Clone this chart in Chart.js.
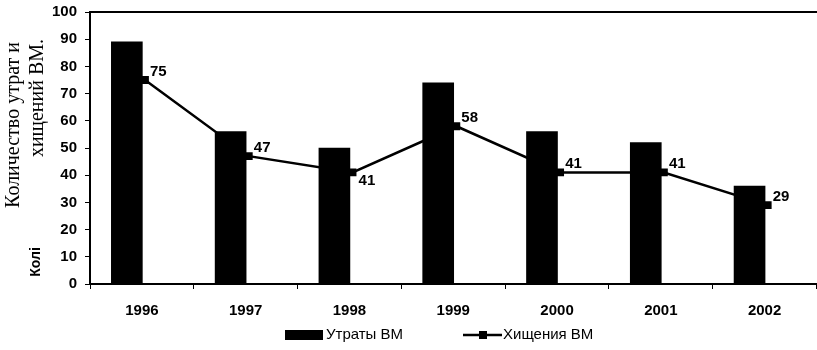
<!DOCTYPE html>
<html>
<head>
<meta charset="utf-8">
<script src="https://cdn.jsdelivr.net/npm/chart.js@4.4.1/dist/chart.umd.min.js"></script>
<style>
  html, body { margin: 0; padding: 0; background: #fff; overflow: hidden; }
  #wrap { width: 822px; height: 350px; position: relative; }
</style>
</head>
<body>
<div id="wrap"><canvas id="c" width="822" height="350"></canvas></div>
<script>
// ---- Data ----
const years = ['1996', '1997', '1998', '1999', '2000', '2001', '2002'];
const lossesValues = [89, 56, 50, 74, 56, 52, 36];   // Утраты ВМ (bars)
const theftValues  = [75, 47, 41, 58, 41, 41, 29];   // Хищения ВМ (line)
const yTicks = [0, 10, 20, 30, 40, 50, 60, 70, 80, 90, 100];
const seriesNames = ['Утраты ВМ', 'Хищения ВМ'];
const axisTitleLines = ['Количество утрат и', 'хищений ВМ.'];
const axisTitleStub = 'Колі';

// ---- Style constants ----
const BAR_SHIFT = -0.145;         // bars sit left of the category centre
const LINE_SHIFT = 0.03;
const labelBelow = [false, false, true, false, false, false, false];
const SANS = '"Liberation Sans", Arial, sans-serif';
const SERIF = '"Liberation Serif", "Times New Roman", serif';

const barData = lossesValues.map((v, i) => ({ x: i + BAR_SHIFT, y: v }));
const lineData = theftValues.map((v, i) => ({ x: i + LINE_SHIFT, y: v }));

const decorPlugin = {
  id: 'decor',
  afterDatasetsDraw(chart) {
    const ctx = chart.ctx;
    const meta = chart.getDatasetMeta(1);
    ctx.save();
    ctx.fillStyle = '#000';
    ctx.font = 'bold 15px ' + SANS;
    ctx.textAlign = 'left';
    meta.data.forEach((pt, i) => {
      if (labelBelow[i]) {
        ctx.textBaseline = 'top';
        ctx.fillText(String(theftValues[i]), pt.x + 6, pt.y + 1);
      } else {
        ctx.textBaseline = 'bottom';
        ctx.fillText(String(theftValues[i]), pt.x + 5, pt.y - 1);
      }
    });
    ctx.restore();
  },
  afterDraw(chart) {
    const ctx = chart.ctx;
    const a = chart.chartArea;
    ctx.save();
    // top frame line
    ctx.strokeStyle = '#000';
    ctx.lineWidth = 2;
    ctx.beginPath();
    ctx.moveTo(a.left, a.top);
    ctx.lineTo(a.right + 2, a.top);
    ctx.stroke();

    // rotated axis title (serif)
    ctx.fillStyle = '#000';
    ctx.textAlign = 'center';
    ctx.textBaseline = 'middle';
    ctx.font = '20px ' + SERIF;
    [[14, 125], [38, 98]].forEach((p, i) => {
      ctx.save();
      ctx.translate(p[0], p[1]);
      ctx.rotate(-Math.PI / 2);
      ctx.fillText(axisTitleLines[i], 0, 0);
      ctx.restore();
    });
    ctx.font = 'bold 14px ' + SANS;
    ctx.save();
    ctx.translate(36, 262);
    ctx.rotate(-Math.PI / 2);
    ctx.fillText(axisTitleStub, 0, 0);
    ctx.restore();

    // legend
    const ly = 335;
    ctx.fillRect(285, 330, 38, 10);
    ctx.font = '15px ' + SANS;
    ctx.textAlign = 'left';
    ctx.fillText(seriesNames[0], 326, ly);
    ctx.lineWidth = 2.5;
    ctx.beginPath();
    ctx.moveTo(463, ly);
    ctx.lineTo(502, ly);
    ctx.stroke();
    ctx.fillRect(479, ly - 4, 8, 8);
    ctx.fillText(seriesNames[1], 503, ly);
    ctx.restore();
  }
};

new Chart(document.getElementById('c'), {
  type: 'bar',
  data: {
    datasets: [
      {
        type: 'bar',
        label: seriesNames[0],
        data: barData,
        backgroundColor: '#000',
        borderWidth: 0,
        barThickness: 31,
        order: 2
      },
      {
        type: 'line',
        label: seriesNames[1],
        data: lineData,
        borderColor: '#000',
        backgroundColor: '#000',
        borderWidth: 2.5,
        tension: 0,
        pointStyle: 'rect',
        pointRadius: 5.5,
        pointBorderWidth: 0,
        order: 1
      }
    ]
  },
  options: {
    responsive: false,
    animation: false,
    events: [],
    layout: { padding: { left: 0, right: 1, top: 12, bottom: 0 } },
    plugins: { legend: { display: false }, tooltip: { enabled: false } },
    scales: {
      x: {
        type: 'linear',
        offset: false,
        min: -0.5,
        max: 6.5,
        afterBuildTicks(axis) { axis.ticks = years.map((_, i) => ({ value: i })); },
        afterFit(axis) { axis.height = 66; axis.paddingLeft = 0; axis.paddingRight = 0; },
        ticks: {
          callback: (v) => years[v] !== undefined ? years[v] : '',
          color: '#000',
          font: { family: SANS, size: 15, weight: 'bold' },
          padding: 13,
          maxRotation: 0,
          autoSkip: false
        },
        grid: { offset: true, drawOnChartArea: false, drawTicks: true, tickLength: 5, color: '#000', lineWidth: 1 },
        border: { display: true, color: '#000', width: 2 }
      },
      y: {
        min: 0,
        max: 100,
        afterBuildTicks(axis) { axis.ticks = yTicks.map(v => ({ value: v })); },
        afterFit(axis) { axis.width = 90; axis.paddingTop = 0; axis.paddingBottom = 0; },
        ticks: {
          color: '#000',
          font: { family: SANS, size: 15, weight: 'bold' },
          padding: 8
        },
        grid: { drawOnChartArea: false, drawTicks: true, tickLength: 5, color: '#000', lineWidth: 1 },
        border: { display: true, color: '#000', width: 2 }
      }
    }
  },
  plugins: [decorPlugin]
});
</script>
</body>
</html>
